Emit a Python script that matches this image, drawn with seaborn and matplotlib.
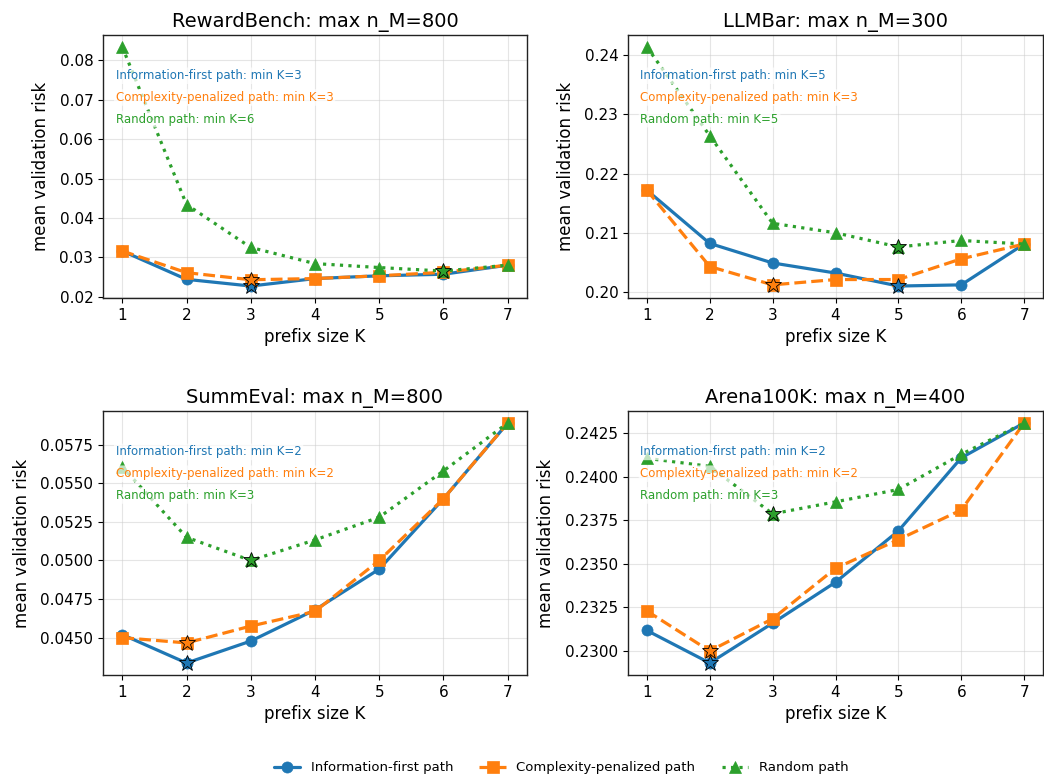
import numpy as np
import pandas as pd
import matplotlib
matplotlib.use("Agg")
import matplotlib.pyplot as plt
from matplotlib.ticker import MultipleLocator, FormatStrFormatter
import seaborn as sns

sns.set_theme(style="ticks", rc={
    "text.color": "black", "axes.labelcolor": "black",
    "xtick.color": "black", "ytick.color": "black",
    "axes.edgecolor": "#222222",
    "xtick.major.size": 3.5, "ytick.major.size": 3.5,
    "xtick.major.width": 0.8, "ytick.major.width": 0.8,
    "axes.linewidth": 1.0,
})
plt.rcParams['font.family'] = ['DejaVu Sans']

K = [1, 2, 3, 4, 5, 6, 7]
titles = ["RewardBench: max n_M=800", "LLMBar: max n_M=300",
          "SummEval: max n_M=800", "Arena100K: max n_M=400"]
series_names = ["Information-first path", "Complexity-penalized path", "Random path"]

rewardbench_info = [0.0316, 0.0244, 0.0227, 0.0246, 0.0253, 0.0257, 0.0280]
rewardbench_comp = [0.0316, 0.0261, 0.0243, 0.0246, 0.0253, 0.0262, 0.0280]
rewardbench_rand = [0.0834, 0.0434, 0.0325, 0.0284, 0.0274, 0.0265, 0.0280]

llmbar_info = [0.2172, 0.2082, 0.2049, 0.2032, 0.2010, 0.2012, 0.2081]
llmbar_comp = [0.2172, 0.2043, 0.2012, 0.2021, 0.2021, 0.2056, 0.2081]
llmbar_rand = [0.2414, 0.2264, 0.2116, 0.2100, 0.2076, 0.2087, 0.2081]

summeval_info = [0.0452, 0.04336, 0.04478, 0.0468, 0.04944, 0.0540, 0.0589]
summeval_comp = [0.0450, 0.04466, 0.04575, 0.0467, 0.0500, 0.0540, 0.0589]
summeval_rand = [0.05606, 0.0515, 0.0500, 0.05133, 0.0528, 0.0558, 0.0589]

arena_info = [0.23118, 0.22931, 0.2316, 0.23395, 0.2369, 0.2411, 0.2431]
arena_comp = [0.2323, 0.2300, 0.23185, 0.23475, 0.2364, 0.2381, 0.2431]
arena_rand = [0.24107, 0.24061, 0.23788, 0.23857, 0.23928, 0.2413, 0.2431]

panels = [
    (rewardbench_info, rewardbench_comp, rewardbench_rand),
    (llmbar_info, llmbar_comp, llmbar_rand),
    (summeval_info, summeval_comp, summeval_rand),
    (arena_info, arena_comp, arena_rand),
]

colors = ["#1f77b4", "#ff7f0e", "#2ca02c"]
markers = ["o", "s", "^"]
linestyles = ["-", "--", ":"]
msizes = [8, 8, 9]

fig = plt.figure(figsize=(10.44, 7.81), dpi=100)
W, H = 1044, 781
boxes = [(103, 35, 424, 263), (628, 35, 415, 263),
         (103, 411, 424, 264), (628, 411, 415, 264)]

for i, (title, data) in enumerate(zip(titles, panels)):
    l, t, w, h = boxes[i]
    ax = fig.add_axes([l / W, (H - t - h) / H, w / W, h / H])
    for j, vals in enumerate(data):
        df = pd.DataFrame({"K": K, "risk": vals})
        sns.lineplot(data=df, x="K", y="risk", ax=ax, color=colors[j],
                     marker=markers[j], markersize=msizes[j],
                     markeredgecolor=colors[j], markeredgewidth=0.5,
                     linestyle=linestyles[j], linewidth=2.3,
                     label=series_names[j], legend=False, zorder=3)
    for j, vals in enumerate(data):
        kmin = int(np.argmin(vals))
        ax.plot([K[kmin]], [vals[kmin]], marker="*", markersize=12,
                markerfacecolor=colors[j], markeredgecolor="black",
                markeredgewidth=0.6, linestyle="none", zorder=5)
        ax.text(0.03, 0.845 - 0.0825 * j,
                f"{series_names[j]}: min K={K[kmin]}",
                transform=ax.transAxes, color=colors[j], fontsize=8.5,
                ha="left", va="center", zorder=6,
                bbox=dict(boxstyle="round,pad=0.15", facecolor="white",
                          edgecolor="none", alpha=0.7))
    ax.set_title(title, fontsize=14)
    ax.set_xlabel("prefix size K", fontsize=12)
    ax.set_ylabel("mean validation risk", fontsize=12, labelpad=7)
    ax.set_xticks(K)
    if i >= 2:
        ax.yaxis.set_major_locator(MultipleLocator(0.0025))
        ax.yaxis.set_major_formatter(FormatStrFormatter("%.4f"))
    ax.tick_params(labelsize=11)
    ax.grid(True, color="#cccccc", alpha=0.5, linewidth=0.8)
    if i == 0:
        handles, labels = ax.get_legend_handles_labels()

fig.legend(handles, labels, loc="center", bbox_to_anchor=(561 / W, (H - 768) / H),
           ncol=3, frameon=False, fontsize=9.5)

fig.savefig("out.png", dpi=100)
